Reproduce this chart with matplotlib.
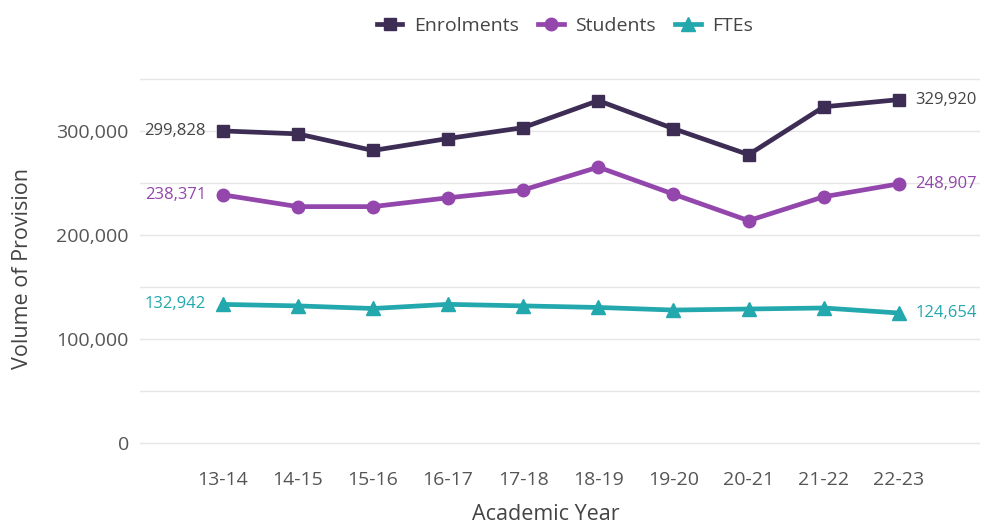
import matplotlib.pyplot as plt
from matplotlib.ticker import FuncFormatter

plt.rcParams['font.family'] = ['Open Sans', 'DejaVu Sans']

years = ['13-14', '14-15', '15-16', '16-17', '17-18', '18-19', '19-20', '20-21', '21-22', '22-23']
enrolments = [299828, 297000, 281000, 292500, 303000, 329000, 302000, 277000, 323000, 329920]
students = [238371, 227000, 227000, 235500, 243000, 265000, 239000, 213500, 236500, 248907]
ftes = [132942, 131500, 129000, 133000, 131500, 130000, 127500, 128500, 129500, 124654]

c_enr = '#3d2d55'
c_stu = '#9346ab'
c_fte = '#22a8ad'

fig = plt.figure(figsize=(9.83, 5.26), dpi=100)
ax = fig.add_axes([0.1424, 0.1388, 0.8546, 0.751])

x = list(range(len(years)))
ax.plot(x, enrolments, color=c_enr, lw=3.4, marker='s', ms=9, label='Enrolments')
ax.plot(x, students, color=c_stu, lw=3.4, marker='o', ms=9, label='Students')
ax.plot(x, ftes, color=c_fte, lw=3.4, marker='^', ms=10, label='FTEs')

# value labels at both ends of each line
for vals, tcol in [(enrolments, '#444444'), (students, c_stu), (ftes, c_fte)]:
    ax.annotate(f'{vals[0]:,}', (x[0], vals[0]), xytext=(-12, 0), textcoords='offset points',
                ha='right', va='center', fontsize=12, color=tcol)
    ax.annotate(f'{vals[-1]:,}', (x[-1], vals[-1]), xytext=(12, 0), textcoords='offset points',
                ha='left', va='center', fontsize=12, color=tcol)

ax.set_xlim(-1.1, 10.08)
ax.set_ylim(-10000, 370000)
ax.set_xticks(x)
ax.set_xticklabels(years)
ax.set_yticks([0, 100000, 200000, 300000])
ax.set_yticks(range(0, 350001, 50000), minor=True)
ax.yaxis.set_major_formatter(FuncFormatter(lambda v, p: f'{int(v):,}'))
ax.grid(axis='y', which='both', color='#e6e6e6', lw=1)
ax.set_axisbelow(True)
for s in ax.spines.values():
    s.set_visible(False)
ax.tick_params(which='both', length=0)
ax.tick_params(axis='x', labelsize=14, labelcolor='#555555', pad=13)
ax.tick_params(axis='y', labelsize=14, labelcolor='#555555', pad=8)

ax.set_xlabel('Academic Year', fontsize=15.5, color='#444444')
ax.set_ylabel('Volume of Provision', fontsize=15.5, color='#444444')
ax.xaxis.set_label_coords(0.483, -0.128)
ax.yaxis.set_label_coords(-0.127, 0.468)

fig.legend(loc='center', bbox_to_anchor=(0.575, 0.95), ncol=3, frameon=False,
           fontsize=14, handlelength=1.3, columnspacing=1.0, handletextpad=0.6,
           labelcolor='#444444')

fig.savefig('out.png', dpi=100)
